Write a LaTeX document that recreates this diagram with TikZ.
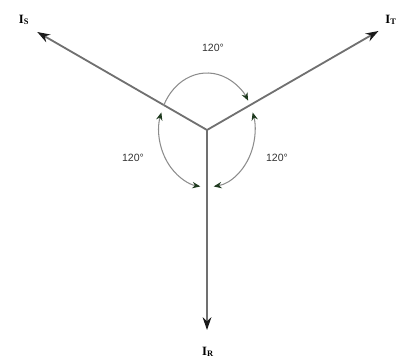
\documentclass[tikz,border=0pt]{standalone}
\usepackage{fontspec}
\setmainfont{Liberation Serif}
\setsansfont{Liberation Sans}
\usetikzlibrary{arrows.meta,calc}
\definecolor{phline}{HTML}{707070}
\definecolor{phtip}{HTML}{1A1A1A}
\definecolor{arcgray}{HTML}{8C8C8C}
\definecolor{arctip}{HTML}{1F3A1F}
\definecolor{lbldark}{HTML}{333333}

\begin{document}
\begin{tikzpicture}[x=0.025cm, y=0.025cm,
    phasor/.style={line width=1.3pt, draw=phline, -{Stealth[length=3.2mm,width=2.2mm,color=phtip]}},
    angarc/.style={line width=0.75pt, draw=arcgray, >={Stealth[length=2mm,width=1.6mm,color=arctip]}},
    anglbl/.style={lbldark, font={\sffamily\fontsize{7.5}{8}\selectfont}},
    phlbl/.style={font={\bfseries\fontsize{9}{10}\selectfont}}]
    \useasboundingbox (0,0) rectangle (400,363);
    \coordinate (O) at (207,233);
    \coordinate (S) at ($(O)+(150:196)$);
    \coordinate (T) at ($(O)+(30:198)$);
    \coordinate (R) at (207,33);
    % phasors
    \draw[phasor] (O) -- (S);
    \draw[phasor] (O) -- (T);
    \draw[phasor] (O) -- (R);
    \node[phlbl] (lS) at (24,343) {I\textsubscript{S}};
    \node[phlbl] (lT) at (391,343) {I\textsubscript{T}};
    \node[phlbl] (lR) at (208,11) {I\textsubscript{R}};
    % angle arcs
    \draw[angarc, ->] ([shift={(155:48 and 57)}]O) arc[start angle=155, end angle=31, x radius=48, y radius=57];
    \draw[angarc, <->] ([shift={(162:48 and 57)}]O) arc[start angle=162, end angle=262, x radius=48, y radius=57];
    \draw[angarc, <->] ([shift={(278:48 and 57)}]O) arc[start angle=278, end angle=378, x radius=48, y radius=57];
    \node[anglbl] (aST) at (213,315) {120°};
    \node[anglbl] (aSR) at (133,205) {120°};
    \node[anglbl] (aRT) at (277,205) {120°};
\end{tikzpicture}
\end{document}
